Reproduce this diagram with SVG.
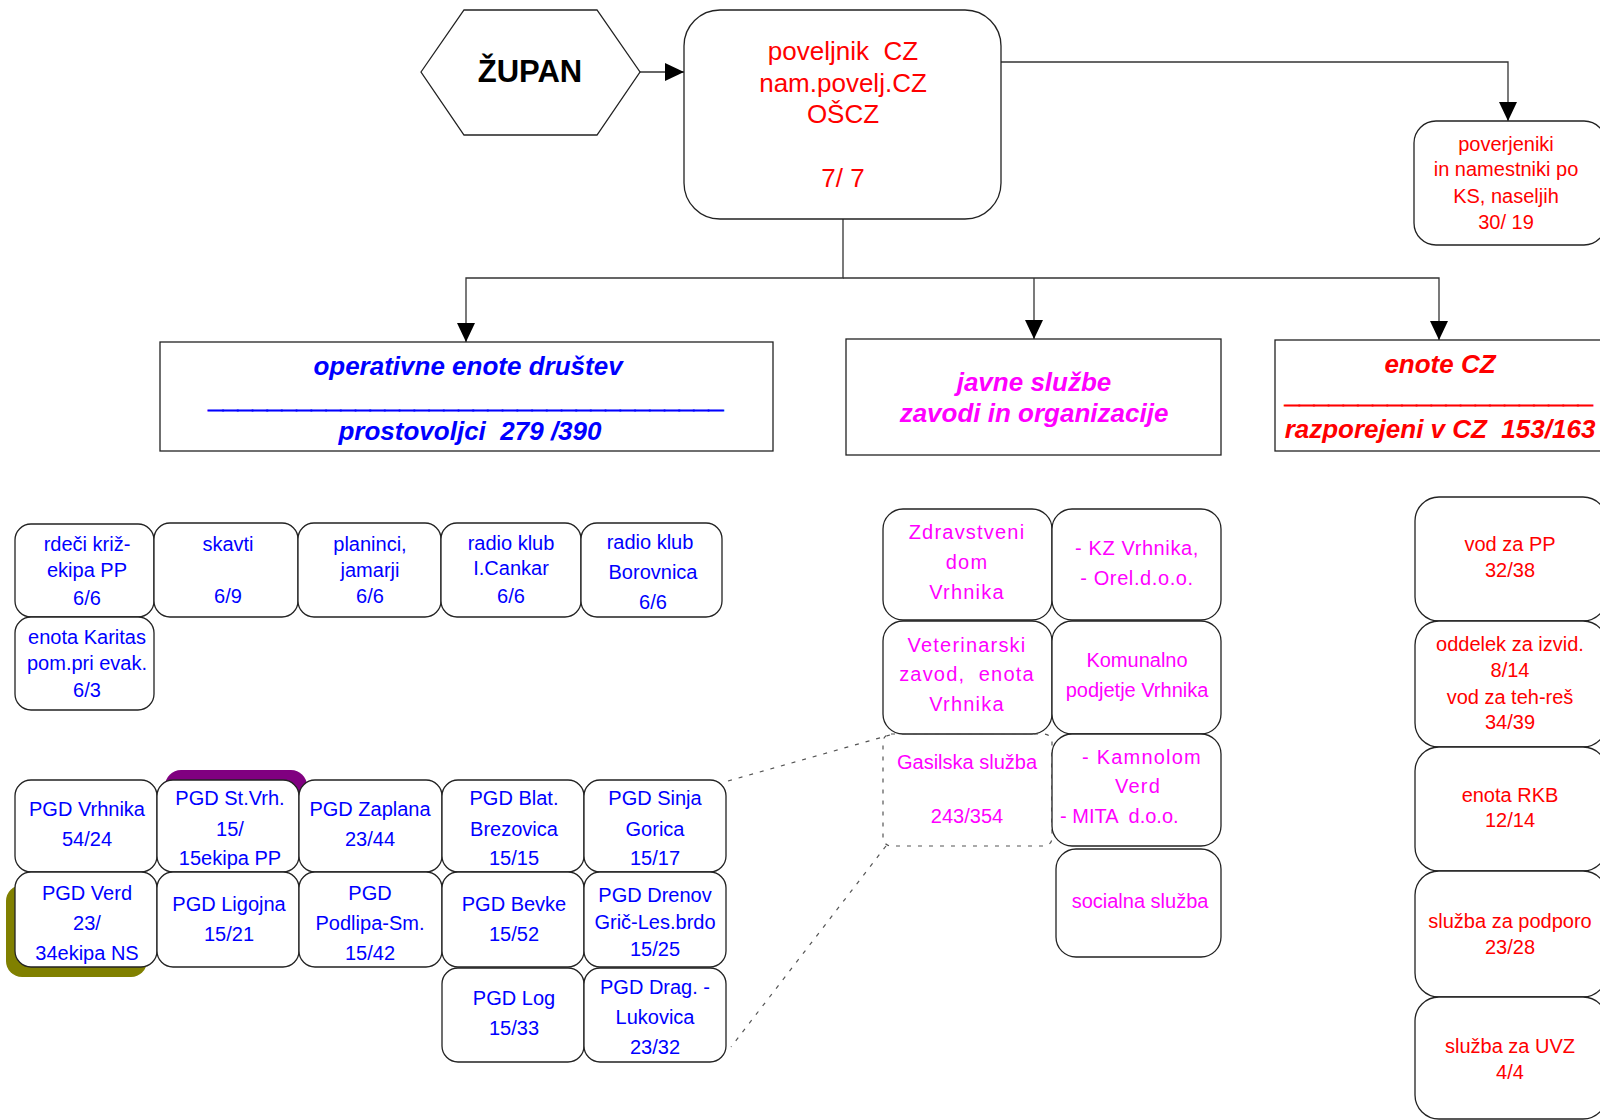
<svg xmlns="http://www.w3.org/2000/svg" width="1600" height="1120" viewBox="0 0 1600 1120">
<defs>
<marker id="arr" markerUnits="userSpaceOnUse" markerWidth="20" markerHeight="20" refX="19" refY="9" orient="auto">
<path d="M0,0 L19,9 L0,18 z" fill="#000"/>
</marker>
<style>
text{font-family:"Liberation Sans",Arial,sans-serif;white-space:pre;text-anchor:middle}
.f20{font-size:20px}
.f26{font-size:26px}
.hd{font-size:26px;font-weight:bold;font-style:italic}
.b{fill:#0000ff}.r{fill:#ff0000}.m{fill:#ff00ff}
.ls{letter-spacing:1.2px}
.ls2{letter-spacing:0.6px}
.ul{stroke-width:1.2px}
.box{fill:#fff;stroke:#222;stroke-width:1.3}
.sq{fill:#fff;stroke:#222;stroke-width:1.3}
.con{fill:none;stroke:#333;stroke-width:1.3}
.dash{fill:none;stroke:#555;stroke-width:1.2;stroke-dasharray:4 7}
</style>
</defs>
<rect width="1600" height="1120" fill="#fff"/>

<g id="connectors">
<path class="con" d="M640,72 H684" marker-end="url(#arr)"/>
<path class="con" d="M1001,62 H1508 V121" marker-end="url(#arr)"/>
<path class="con" d="M843,219 V278 H466 V342" marker-end="url(#arr)"/>
<path class="con" d="M843,278 H1439 V340" marker-end="url(#arr)"/>
<path class="con" d="M1034,278 V339" marker-end="url(#arr)"/>
<path class="dash" d="M728,781 L890,735"/>
<path class="dash" d="M886,846 L731,1047"/>
</g>

<g id="zupan">
<polygon points="421,72 464,10 597,10 640,72 597,135 464,135" fill="#fff" stroke="#222" stroke-width="1.3"/>
<text x="530" y="82" style="font-size:31px;font-weight:bold" fill="#000">ŽUPAN</text>
</g>

<g id="poveljnik">
<rect class="box" x="684" y="10" width="317" height="209" rx="36"/>
<text class="f26 r" x="843" y="60">poveljnik  CZ</text>
<text class="f26 r" x="843" y="92">nam.povelj.CZ</text>
<text class="f26 r" x="843" y="123">OŠCZ</text>
<text class="f26 r" x="843" y="187">7/ 7</text>
</g>

<g id="poverjeniki">
<rect class="box" x="1414" y="121" width="192" height="124" rx="22"/>
<text class="f20 r" x="1506" y="151">poverjeniki</text>
<text class="f20 r" x="1506" y="176">in namestniki po</text>
<text class="f20 r" x="1506" y="203">KS, naseljih</text>
<text class="f20 r" x="1506" y="229">30/ 19</text>
</g>

<g id="operativne">
<rect class="sq" x="160" y="342" width="613" height="109"/>
<text class="hd b" x="468" y="375">operativne enote društev</text>
<text class="hd b ul" x="467" y="408" stroke="#0000ff" textLength="515" lengthAdjust="spacingAndGlyphs">___________________________________</text>
<text class="hd b" x="470" y="440">prostovoljci  279 /390</text>
</g>

<g id="javne">
<rect class="sq" x="846" y="339" width="375" height="116"/>
<text class="hd m" x="1034" y="391">javne službe</text>
<text class="hd m" x="1034" y="422">zavodi in organizacije</text>
</g>

<g id="enotecz">
<rect class="sq" x="1275" y="340" width="335" height="111"/>
<text class="hd r" x="1440" y="373">enote CZ</text>
<text class="hd r ul" x="1440" y="403" stroke="#ff0000" textLength="308" lengthAdjust="spacingAndGlyphs">_____________________</text>
<text class="hd r" x="1440" y="438">razporejeni v CZ  153/163</text>
</g>

<g id="rdecikriz">
<rect class="box" x="15" y="524" width="139" height="93" rx="16"/>
<text class="f20 b" x="87" y="551">rdeči križ-</text>
<text class="f20 b" x="87" y="577">ekipa PP</text>
<text class="f20 b" x="87" y="605">6/6</text>
</g>
<g id="skavti">
<rect class="box" x="154" y="523" width="144" height="94" rx="16"/>
<text class="f20 b" x="228" y="551">skavti</text>
<text class="f20 b" x="228" y="603">6/9</text>
</g>
<g id="planinci">
<rect class="box" x="298" y="523" width="143" height="94" rx="16"/>
<text class="f20 b" x="370" y="551">planinci,</text>
<text class="f20 b" x="370" y="577">jamarji</text>
<text class="f20 b" x="370" y="603">6/6</text>
</g>
<g id="radiocankar">
<rect class="box" x="441" y="523" width="140" height="94" rx="16"/>
<text class="f20 b" x="511" y="550">radio klub</text>
<text class="f20 b" x="511" y="575">I.Cankar</text>
<text class="f20 b" x="511" y="603">6/6</text>
</g>
<g id="radioborovnica">
<rect class="box" x="581" y="523" width="141" height="94" rx="16"/>
<text class="f20 b" x="650" y="549">radio klub</text>
<text class="f20 b" x="653" y="579">Borovnica</text>
<text class="f20 b" x="653" y="609">6/6</text>
</g>
<g id="karitas">
<rect class="box" x="15" y="617" width="139" height="93" rx="16"/>
<text class="f20 b" x="87" y="644">enota Karitas</text>
<text class="f20 b" x="87" y="670">pom.pri evak.</text>
<text class="f20 b" x="87" y="697">6/3</text>
</g>

<g id="pgd-vrhnika">
<rect class="box" x="15" y="780" width="142" height="92" rx="16"/>
<text class="f20 b" x="87" y="816">PGD Vrhnika</text>
<text class="f20 b" x="87" y="846">54/24</text>
</g>
<g id="pgd-stvrh">
<rect x="165" y="770" width="142" height="92" rx="16" fill="#800080"/>
<rect class="box" x="157" y="780" width="142" height="92" rx="16"/>
<text class="f20 b" x="230" y="805">PGD St.Vrh.</text>
<text class="f20 b" x="230" y="836">15/</text>
<text class="f20 b" x="230" y="865">15ekipa PP</text>
</g>
<g id="pgd-zaplana">
<rect class="box" x="299" y="780" width="143" height="92" rx="16"/>
<text class="f20 b" x="370" y="816">PGD Zaplana</text>
<text class="f20 b" x="370" y="846">23/44</text>
</g>
<g id="pgd-blat">
<rect class="box" x="442" y="780" width="142" height="92" rx="16"/>
<text class="f20 b" x="514" y="805">PGD Blat.</text>
<text class="f20 b" x="514" y="836">Brezovica</text>
<text class="f20 b" x="514" y="865">15/15</text>
</g>
<g id="pgd-sinja">
<rect class="box" x="584" y="780" width="142" height="92" rx="16"/>
<text class="f20 b" x="655" y="805">PGD Sinja</text>
<text class="f20 b" x="655" y="836">Gorica</text>
<text class="f20 b" x="655" y="865">15/17</text>
</g>
<g id="pgd-verd">
<rect x="6" y="885" width="141" height="92" rx="16" fill="#808000"/>
<rect class="box" x="15" y="872" width="142" height="95" rx="16"/>
<text class="f20 b" x="87" y="900">PGD Verd</text>
<text class="f20 b" x="87" y="930">23/</text>
<text class="f20 b" x="87" y="960">34ekipa NS</text>
</g>
<g id="pgd-ligojna">
<rect class="box" x="157" y="872" width="142" height="95" rx="16"/>
<text class="f20 b" x="229" y="911">PGD Ligojna</text>
<text class="f20 b" x="229" y="941">15/21</text>
</g>
<g id="pgd-podlipa">
<rect class="box" x="299" y="872" width="143" height="95" rx="16"/>
<text class="f20 b" x="370" y="900">PGD</text>
<text class="f20 b" x="370" y="930">Podlipa-Sm.</text>
<text class="f20 b" x="370" y="960">15/42</text>
</g>
<g id="pgd-bevke">
<rect class="box" x="442" y="872" width="142" height="95" rx="16"/>
<text class="f20 b" x="514" y="911">PGD Bevke</text>
<text class="f20 b" x="514" y="941">15/52</text>
</g>
<g id="pgd-drenov">
<rect class="box" x="584" y="872" width="142" height="95" rx="16"/>
<text class="f20 b" x="655" y="902">PGD Drenov</text>
<text class="f20 b" x="655" y="929">Grič-Les.brdo</text>
<text class="f20 b" x="655" y="956">15/25</text>
</g>
<g id="pgd-log">
<rect class="box" x="442" y="968" width="142" height="94" rx="16"/>
<text class="f20 b" x="514" y="1005">PGD Log</text>
<text class="f20 b" x="514" y="1035">15/33</text>
</g>
<g id="pgd-drag">
<rect class="box" x="584" y="968" width="142" height="94" rx="16"/>
<text class="f20 b" x="655" y="994">PGD Drag. -</text>
<text class="f20 b" x="655" y="1024">Lukovica</text>
<text class="f20 b" x="655" y="1054">23/32</text>
</g>

<g id="zdravstveni">
<rect class="box" x="883" y="509" width="169" height="111" rx="20"/>
<text class="f20 m ls" x="967" y="539">Zdravstveni</text>
<text class="f20 m ls" x="967" y="569">dom</text>
<text class="f20 m ls" x="967" y="599">Vrhnika</text>
</g>
<g id="kz">
<rect class="box" x="1052" y="509" width="169" height="111" rx="20"/>
<text class="f20 m ls2" x="1137" y="555">- KZ Vrhnika,</text>
<text class="f20 m ls2" x="1137" y="585">- Orel.d.o.o.</text>
</g>
<g id="veterinarski">
<rect class="box" x="883" y="621" width="169" height="113" rx="20"/>
<text class="f20 m ls" x="967" y="652">Veterinarski</text>
<text class="f20 m ls" x="967" y="681">zavod,  enota</text>
<text class="f20 m ls" x="967" y="711">Vrhnika</text>
</g>
<g id="komunalno">
<rect class="box" x="1052" y="621" width="169" height="113" rx="20"/>
<text class="f20 m" x="1137" y="667">Komunalno</text>
<text class="f20 m" x="1137" y="697">podjetje Vrhnika</text>
</g>
<g id="gasilska">
<rect class="dash" x="883" y="734" width="169" height="112" rx="8"/>
<text class="f20 m" x="967" y="769">Gasilska služba</text>
<text class="f20 m" x="967" y="823">243/354</text>
</g>
<g id="kamnolom">
<rect class="box" x="1052" y="734" width="169" height="112" rx="20"/>
<text class="f20 m ls" x="1142" y="764">- Kamnolom</text>
<text class="f20 m ls" x="1138" y="793">Verd</text>
<text class="f20 m" x="1060" y="823" style="text-anchor:start">- MITA  d.o.o.</text>
</g>
<g id="socialna">
<rect class="box" x="1056" y="849" width="165" height="108" rx="20"/>
<text class="f20 m" x="1140" y="908">socialna služba</text>
</g>

<g id="vodpp">
<rect class="box" x="1415" y="497" width="192" height="124" rx="24"/>
<text class="f20 r" x="1510" y="551">vod za PP</text>
<text class="f20 r" x="1510" y="577">32/38</text>
</g>
<g id="oddelek">
<rect class="box" x="1415" y="621" width="192" height="126" rx="24"/>
<text class="f20 r" x="1510" y="651">oddelek za izvid.</text>
<text class="f20 r" x="1510" y="677">8/14</text>
<text class="f20 r" x="1510" y="704">vod za teh-reš</text>
<text class="f20 r" x="1510" y="729">34/39</text>
</g>
<g id="rkb">
<rect class="box" x="1415" y="747" width="192" height="124" rx="24"/>
<text class="f20 r" x="1510" y="802">enota RKB</text>
<text class="f20 r" x="1510" y="827">12/14</text>
</g>
<g id="podpora">
<rect class="box" x="1415" y="871" width="192" height="126" rx="24"/>
<text class="f20 r" x="1510" y="928">služba za podporo</text>
<text class="f20 r" x="1510" y="954">23/28</text>
</g>
<g id="uvz">
<rect class="box" x="1415" y="997" width="192" height="122" rx="24"/>
<text class="f20 r" x="1510" y="1053">služba za UVZ</text>
<text class="f20 r" x="1510" y="1079">4/4</text>
</g>
</svg>
